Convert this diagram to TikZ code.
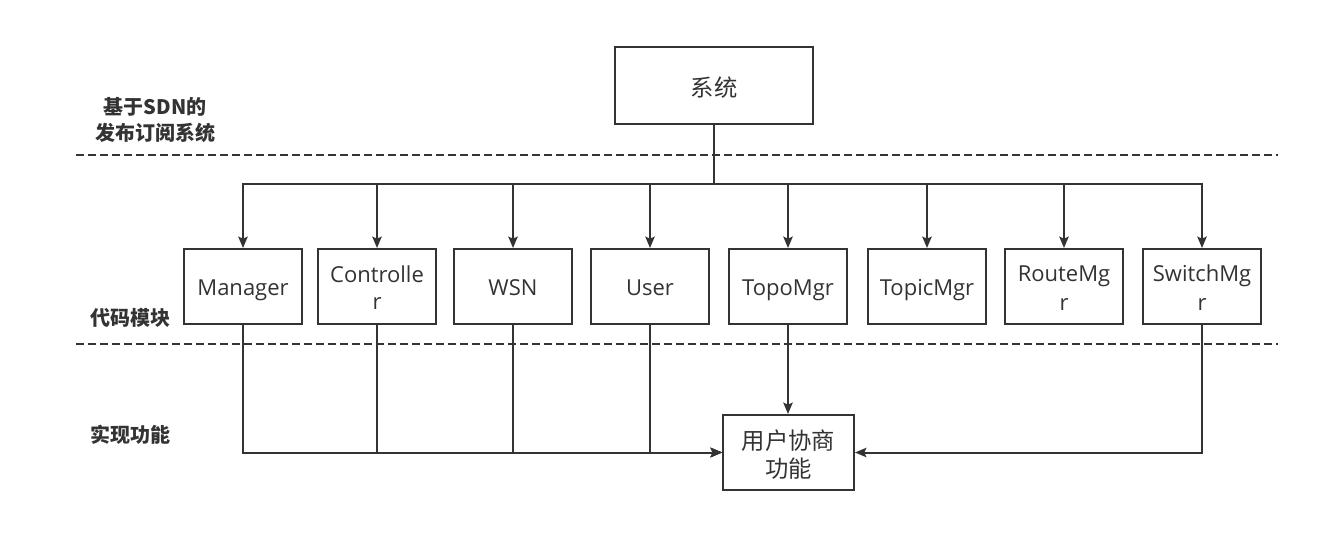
\documentclass[tikz,border=0pt]{standalone}
\usepackage{fontspec}
\setmainfont{Open Sans}
\newfontfamily\cjk{Noto Sans CJK SC}
\usetikzlibrary{arrows.meta}
\definecolor{ink}{HTML}{333333}
\newcommand\ts{\rule[-3pt]{0pt}{20pt}}
\newcommand\cs{\rule[-2.5pt]{0pt}{21pt}}
\tikzset{
  box/.style={draw=ink, line width=1.5pt, fill=white, align=center, inner sep=0pt,
    text=ink, font=\fontsize{16.5}{20}\selectfont},
  modbox/.style={box, minimum width=88.5pt, minimum height=56.25pt},
  cjkbox/.style={box, font=\cjk\fontsize{17.5}{21}\selectfont},
  arr/.style={draw=ink, line width=1.5pt, -{Stealth[length=8.5pt,width=7pt,inset=1.5pt]}},
  conn/.style={draw=ink, line width=1.5pt},
  divider/.style={draw=ink, line width=1.5pt, dash pattern=on 6pt off 3pt},
  lab/.style={text=ink, font=\cjk\bfseries\fontsize{15}{19.5}\selectfont, align=center, inner sep=0pt}
}
\begin{document}
\begin{tikzpicture}[x=0.75pt, y=-0.75pt]
\useasboundingbox (0,0) rectangle (1342,552);
% dividers
\coordinate (d1l) at (76,155); \coordinate (d1r) at (1278,155);
\coordinate (d2l) at (76,344); \coordinate (d2r) at (1278,344);
\draw[divider] (d1l) -- (d1r);
\draw[divider] (d2l) -- (d2r);
% labels
\node[lab] (l1) at (155,120) {基于SDN的\\发布订阅系统};
\node[lab] (l2) at (130,318) {代码模块};
\node[lab] (l3) at (130,435) {实现功能};
% top box
\node[cjkbox, minimum width=148.5pt, minimum height=57.75pt] (sys) at (714,85.5) {\cs 系统};
% module boxes
\node[modbox] (man) at (243,286.5) {\ts Manager};
\node[modbox] (con) at (377,286.5) {\ts Controlle\\\ts r};
\node[modbox] (wsn) at (513,286.5) {\ts WSN};
\node[modbox] (usr) at (650,286.5) {\ts User};
\node[modbox] (topo) at (788,286.5) {\ts TopoMgr};
\node[modbox] (topic) at (927,286.5) {\ts TopicMgr};
\node[modbox] (route) at (1064,286.5) {\ts RouteMg\\\ts r};
\node[modbox] (sw) at (1202,286.5) {\ts SwitchMg\\\ts r};
% function box
\node[cjkbox, minimum width=98.25pt, minimum height=56.25pt] (fn) at (788.5,452.5) {\cs 用户协商\\\cs 功能};
% bus
\coordinate (bus) at (714,184);
\draw[conn] (sys.south) -- (bus);
\foreach \n in {man,con,wsn,usr,topo,topic,route,sw}
  \draw[arr] (bus) -| (\n.north);
% to function
\foreach \n in {man,con,wsn,usr}
  \draw[arr] (\n.south) |- (fn.west);
\draw[arr] (topo.south) -- (topo.south |- fn.north);
\draw[arr] (sw.south) |- (fn.east);
\end{tikzpicture}
\end{document}
